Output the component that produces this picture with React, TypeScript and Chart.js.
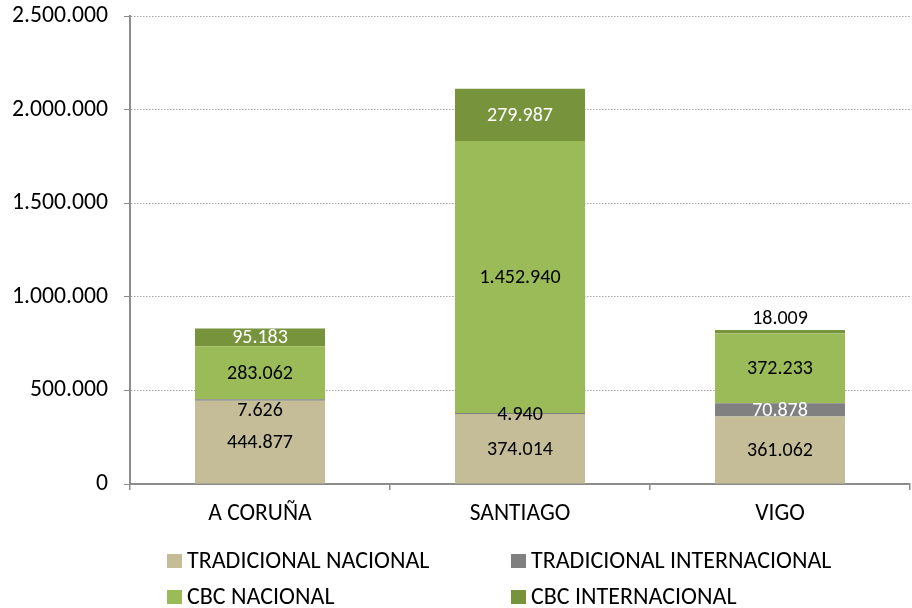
import React, { useEffect, useRef } from "react";
import { Chart, registerables } from "chart.js";

Chart.register(...registerables);

const categories = ["A CORUÑA", "SANTIAGO", "VIGO"];
const seriesNames = [
  "TRADICIONAL NACIONAL",
  "TRADICIONAL INTERNACIONAL",
  "CBC NACIONAL",
  "CBC INTERNACIONAL",
];
const tradicionalNacional = [444877, 374014, 361062];
const tradicionalInternacional = [7626, 4940, 70878];
const cbcNacional = [283062, 1452940, 372233];
const cbcInternacional = [95183, 279987, 18009];
const yMax = 2500000;
const yStep = 500000;

const seriesColors = ["#C4BD97", "#808080", "#9BBB59", "#77933C"];
const labelColors = ["#000000", "#FFFFFF", "#000000", "#FFFFFF"];

const FONT = "Carlito, Lato, 'Open Sans', sans-serif";

function fmt(v: number): string {
  const s = Math.round(v).toString();
  return s.replace(/\B(?=(\d{3})+(?!\d))/g, ".");
}

const dataLabelPlugin = {
  id: "dataLabels",
  afterDatasetsDraw(chart: any) {
    const ctx = chart.ctx;
    ctx.save();
    ctx.font = `20px ${FONT}`;
    ctx.textAlign = "center";
    ctx.textBaseline = "middle";
    const nDs = chart.data.datasets.length;
    chart.data.datasets.forEach((ds: any, di: number) => {
      const meta = chart.getDatasetMeta(di);
      meta.data.forEach((el: any, i: number) => {
        const v = ds.data[i];
        const top = Math.min(el.y, el.base);
        const bottom = Math.max(el.y, el.base);
        const h = bottom - top;
        let y = (top + bottom) / 2;
        let color = labelColors[di];
        if (h < 8) {
          color = "#000000";
          if (di === nDs - 1) {
            y = top - 12;
          } else if (h > 1.2) {
            y = y + 10;
          }
        }
        ctx.fillStyle = color;
        ctx.fillText(fmt(v), el.x, y + 1);
      });
    });
    ctx.restore();
  },
};

const legendPlugin = {
  id: "customLegend",
  afterDraw(chart: any) {
    const ctx = chart.ctx;
    const area = chart.chartArea;
    ctx.save();
    ctx.font = `24px ${FONT}`;
    ctx.textAlign = "left";
    ctx.textBaseline = "middle";
    const colX = [area.left + 37, area.left + 381];
    const rowY = [561, 597];
    chart.data.datasets.forEach((ds: any, di: number) => {
      const x = colX[di % 2];
      const y = rowY[Math.floor(di / 2)];
      ctx.fillStyle = ds.backgroundColor;
      ctx.fillRect(x, y - 7, 15, 14);
      ctx.fillStyle = "#000000";
      ctx.fillText(ds.label, x + 20, y + 1);
    });
    ctx.restore();
  },
};

export default function App() {
  const ref = useRef<HTMLCanvasElement | null>(null);
  useEffect(() => {
    if (!ref.current) return;
    const seriesData = [tradicionalNacional, tradicionalInternacional, cbcNacional, cbcInternacional];
    const chart = new Chart(ref.current, {
      type: "bar",
      data: {
        labels: categories,
        datasets: seriesData.map((d, i) => ({
          label: seriesNames[i],
          data: d,
          backgroundColor: seriesColors[i],
          borderWidth: 0,
          categoryPercentage: 0.5,
          barPercentage: 1,
        })),
      },
      options: {
        animation: false,
        responsive: false,
        maintainAspectRatio: false,
        layout: { padding: { left: 8, right: 2, top: 16, bottom: 79 } },
        plugins: {
          legend: { display: false },
          tooltip: { enabled: false },
        },
        scales: {
          x: {
            stacked: true,
            afterFit: (s: any) => {
              s.height = 45;
              s.paddingLeft = 0;
              s.paddingRight = 0;
            },
            grid: {
              offset: true,
              drawOnChartArea: false,
              drawTicks: true,
              tickLength: 6,
              color: "#8C8C8C",
              tickColor: "#8C8C8C",
              lineWidth: 1.5,
            },
            border: { display: true, color: "#8C8C8C", width: 2 },
            ticks: {
              color: "#000000",
              padding: 10,
              font: { family: FONT, size: 23.5 },
            },
          },
          y: {
            stacked: true,
            min: 0,
            max: yMax,
            afterFit: (s: any) => {
              s.width = 122;
              s.paddingTop = 0;
              s.paddingBottom = 0;
            },
            grid: {
              color: (c: any) => (c.tick && c.tick.value === 0 ? "rgba(0,0,0,0)" : "#A6A6A6"),
              lineWidth: 1,
              drawTicks: true,
              tickLength: 6,
              tickColor: "#8C8C8C",
              tickBorderDash: [],
            },
            border: { display: true, color: "#8C8C8C", width: 2, dash: [1.5, 1.5] },
            ticks: {
              stepSize: yStep,
              color: "#000000",
              padding: 16,
              font: { family: FONT, size: 23.7 },
              callback: (v: any) => fmt(Number(v)),
            },
          },
        },
      },
      plugins: [dataLabelPlugin, legendPlugin],
    });
    return () => chart.destroy();
  }, []);
  return (
    <div style={{ position: "fixed", left: 0, top: 0, width: 912, height: 608, background: "#fff" }}>
      <canvas ref={ref} width={912} height={608} style={{ display: "block", width: 912, height: 608 }} />
    </div>
  );
}
